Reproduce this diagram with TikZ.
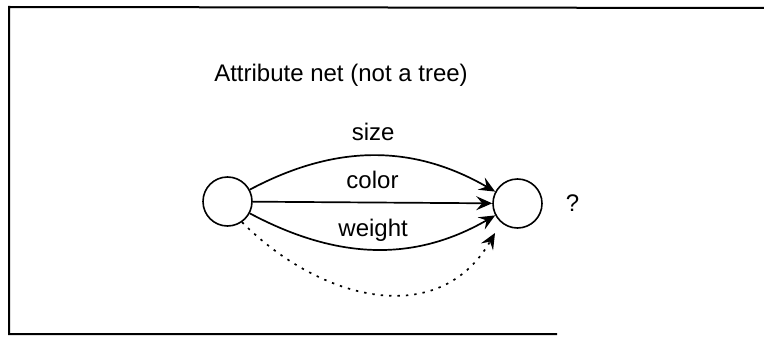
\documentclass[tikz,border=0pt]{standalone}
\usepackage{fontspec}
\setmainfont{Liberation Sans}
\usetikzlibrary{arrows.meta, positioning}

\begin{document}
\begin{tikzpicture}[
    x=0.5pt, y=0.5pt,
    font=\fontsize{12}{14}\selectfont,
    state/.style={circle, draw, line width=0.8pt, minimum size=24.5pt, inner sep=0pt},
    arrow/.style={-{Stealth[length=8pt, width=7pt, inset=3pt]}, line width=0.85pt},
    frame/.style={line width=1pt},
]
\useasboundingbox (0,0) rectangle (764,-342);
\draw[frame] (764,-8) -- (9,-7) -- (9,-334) -- (557,-334);

\node[anchor=base] (title) at (341,-82) {Attribute net (not a tree)};
\node[state] (src) at (227.5,-201.5) {};
\node[state] (dst) at (517.5,-203.5) {};
\node[right=8pt of dst] (query) {?};
\coordinate (dotend) at (495,-233);

\draw[arrow] (src.28) to[out=28, in=150] node[above=3.5pt] (size) {size} (dst.152);
\draw[arrow] (src) -- node[above=3pt] (color) {color} (dst);
\draw[arrow] (src.-28) to[out=-28, in=-150] node[above] (weight) {weight} (dst.-152);
\draw[arrow, dash pattern=on 1.2pt off 3pt] (src.-55) to[out=-45, in=-120, looseness=1.13] (dotend);
\end{tikzpicture}
\end{document}
